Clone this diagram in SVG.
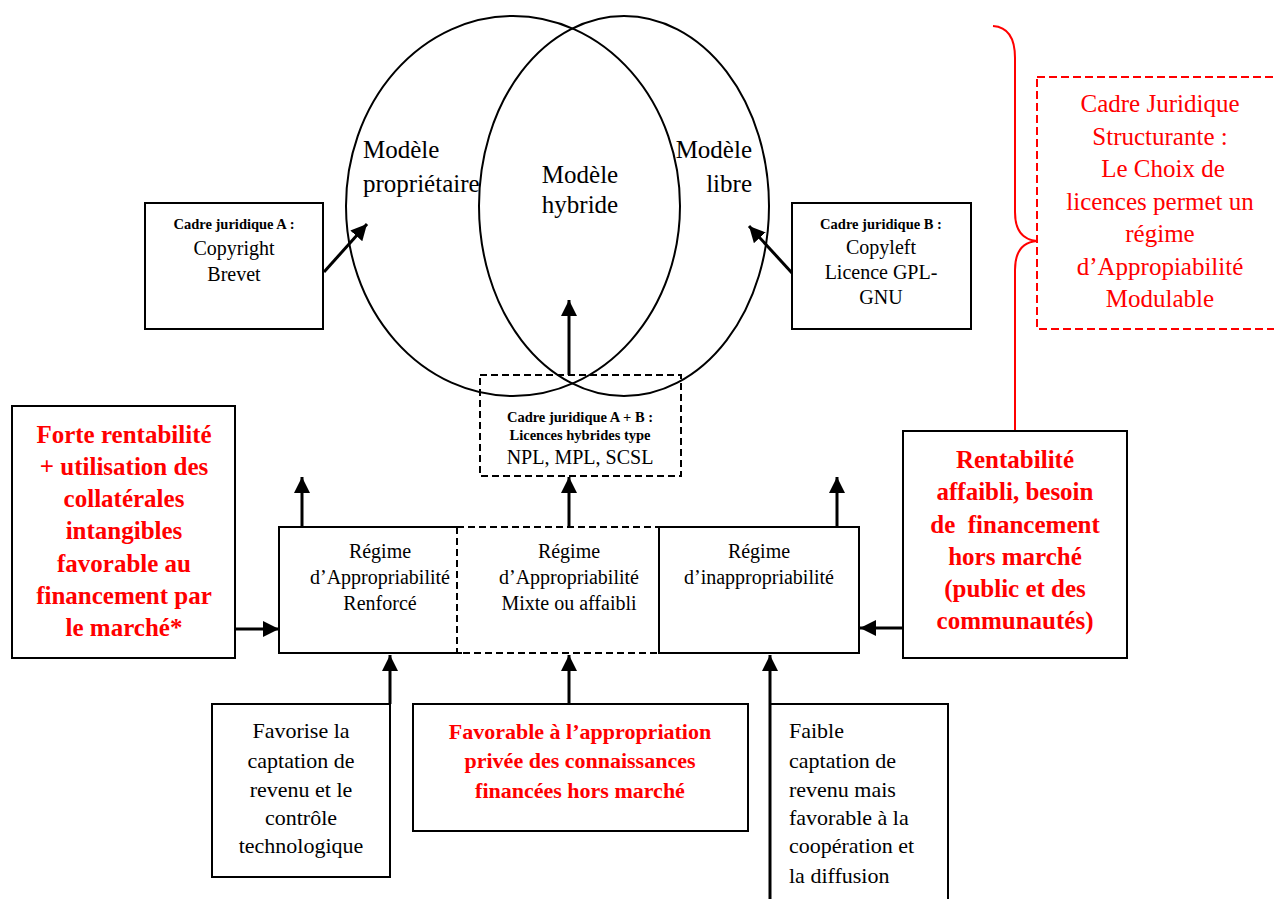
<svg xmlns="http://www.w3.org/2000/svg" width="1274" height="899" viewBox="0 0 1274 899">
<style>
  .bg { fill: #ffffff; }
  .box { fill: none; stroke: #000; stroke-width: 2; }
  .dbox { fill: none; stroke: #000; stroke-width: 2; stroke-dasharray: 7 4; }
  .rdbox { fill: none; stroke: #ff0000; stroke-width: 2; stroke-dasharray: 8 4; }
  .ell { fill: none; stroke: #000; stroke-width: 2; }
  .brace { fill: none; stroke: #ff0000; stroke-width: 2; }
  .conn { fill: none; stroke: #000; stroke-width: 3; marker-end: url(#ah); }
  text { font-family: "Liberation Serif", "Times New Roman", serif; fill: #000; }
  .c { text-anchor: middle; }
  .r { text-anchor: end; }
  .s14b { font-size: 14.5px; font-weight: bold; }
  .s20 { font-size: 20px; }
  .s22 { font-size: 22px; }
  .s25 { font-size: 25px; }
  .red { fill: #ff0000; }
  .b { font-weight: bold; }
</style>
<defs>
  <marker id="ah" markerUnits="userSpaceOnUse" markerWidth="18" markerHeight="16" refX="16" refY="8" orient="auto">
    <path d="M0,0 L16,8 L0,16 Z" fill="#000"/>
  </marker>
</defs>
<rect class="bg" x="0" y="0" width="1274" height="899"/>

<g id="venn">
  <ellipse class="ell" cx="513" cy="206" rx="167" ry="190"/>
  <ellipse class="ell" cx="624" cy="206" rx="145" ry="190"/>
  <text class="s25" x="363" y="158">Modèle</text>
  <text class="s25" x="363" y="192">propriétaire</text>
  <text class="s25 c" x="580" y="183">Modèle</text>
  <text class="s25 c" x="580" y="213">hybride</text>
  <text class="s25 r" x="752" y="158">Modèle</text>
  <text class="s25 r" x="752" y="192">libre</text>
</g>

<g id="cadreA">
  <rect class="box" x="145" y="203" width="178" height="126"/>
  <text class="s14b c" x="234" y="229">Cadre juridique A :</text>
  <text class="s20 c" x="234" y="255">Copyright</text>
  <text class="s20 c" x="234" y="281">Brevet</text>
</g>

<g id="cadreB">
  <rect class="box" x="792" y="203" width="179" height="126"/>
  <text class="s14b c" x="881" y="229">Cadre juridique B :</text>
  <text class="s20 c" x="881" y="254">Copyleft</text>
  <text class="s20 c" x="881" y="279">Licence GPL-</text>
  <text class="s20 c" x="881" y="304">GNU</text>
</g>

<g id="cadreAB">
  <rect class="dbox" x="480" y="375" width="201" height="101"/>
  <text class="s14b c" x="580" y="422">Cadre juridique A + B :</text>
  <text class="s14b c" x="580" y="440">Licences hybrides type</text>
  <text class="s20 c" x="580" y="464">NPL, MPL, SCSL</text>
</g>

<g id="structurante">
  <path class="brace" d="M993,26 C1008,27 1015,38 1015,58 L1015,212 C1015,232 1024,240 1037,241 C1024,242 1015,250 1015,270 L1015,431"/>
  <rect class="rdbox" x="1037" y="77" width="245" height="252"/>
  <text class="s25 c red" x="1160" y="112">Cadre Juridique</text>
  <text class="s25 c red" x="1160" y="145">Structurante :</text>
  <text class="s25 c red" x="1163" y="177">Le Choix de</text>
  <text class="s25 c red" x="1160" y="210">licences permet un</text>
  <text class="s25 c red" x="1160" y="242">régime</text>
  <text class="s25 c red" x="1160" y="275">d’Appropiabilité</text>
  <text class="s25 c red" x="1160" y="307">Modulable</text>
</g>

<g id="forteRentabilite">
  <rect class="box" x="12" y="406" width="223" height="252"/>
  <text class="s25 c b red" x="124" y="443">Forte rentabilité</text>
  <text class="s25 c b red" x="124" y="475">+ utilisation des</text>
  <text class="s25 c b red" x="124" y="507">collatérales</text>
  <text class="s25 c b red" x="124" y="539">intangibles</text>
  <text class="s25 c b red" x="124" y="572">favorable au</text>
  <text class="s25 c b red" x="124" y="604">financement par</text>
  <text class="s25 c b red" x="124" y="636">le marché*</text>
</g>

<g id="rentabiliteAffaibli">
  <rect class="box" x="903" y="431" width="224" height="227"/>
  <text class="s25 c b red" x="1015" y="468">Rentabilité</text>
  <text class="s25 c b red" x="1015" y="500">affaibli, besoin</text>
  <text class="s25 c b red" x="1015" y="533" style="white-space:pre">de  financement</text>
  <text class="s25 c b red" x="1015" y="565">hors marché</text>
  <text class="s25 c b red" x="1015" y="597">(public et des</text>
  <text class="s25 c b red" x="1015" y="629">communautés)</text>
</g>

<g id="regimeRenforce">
  <path class="box" d="M462,527 H279 V653 H462"/>
  <text class="s20 c" x="380" y="558">Régime</text>
  <text class="s20 c" x="380" y="584">d’Appropriabilité</text>
  <text class="s20 c" x="380" y="610">Renforcé</text>
</g>

<g id="regimeMixte">
  <rect class="dbox" x="457" y="527" width="202" height="126"/>
  <text class="s20 c" x="569" y="558">Régime</text>
  <text class="s20 c" x="569" y="584">d’Appropriabilité</text>
  <text class="s20 c" x="569" y="610">Mixte ou affaibli</text>
</g>

<g id="regimeInappropriabilite">
  <rect class="box" x="659" y="527" width="200" height="126"/>
  <text class="s20 c" x="759" y="558">Régime</text>
  <text class="s20 c" x="759" y="584">d’inappropriabilité</text>
</g>

<g id="favorise">
  <rect class="box" x="212" y="704" width="178" height="173"/>
  <text class="s22 c" x="301" y="738">Favorise la</text>
  <text class="s22 c" x="301" y="768">captation de</text>
  <text class="s22 c" x="301" y="797">revenu et le</text>
  <text class="s22 c" x="301" y="825">contrôle</text>
  <text class="s22 c" x="301" y="853">technologique</text>
</g>

<g id="favorable">
  <rect class="box" x="413" y="704" width="335" height="127"/>
  <text class="s22 c b red" x="580" y="739">Favorable à l’appropriation</text>
  <text class="s22 c b red" x="580" y="768">privée des connaissances</text>
  <text class="s22 c b red" x="580" y="798">financées hors marché</text>
</g>

<g id="faible">
  <path class="box" d="M770,910 V704 H948 V910"/>
  <text class="s22" x="789" y="738">Faible</text>
  <text class="s22" x="789" y="768">captation de</text>
  <text class="s22" x="789" y="797">revenu mais</text>
  <text class="s22" x="789" y="825">favorable à la</text>
  <text class="s22" x="789" y="853">coopération et</text>
  <text class="s22" x="789" y="883">la diffusion</text>
</g>

<g id="connectors">
  <path class="conn" d="M324,272 L367,224"/>
  <path class="conn" d="M792,273 L749,226"/>
  <path class="conn" d="M569,375 L569,300"/>
  <path class="conn" d="M569,527 L569,477"/>
  <path class="conn" d="M302,527 L302,477"/>
  <path class="conn" d="M837,527 L837,477"/>
  <path class="conn" d="M235,629 L279,629"/>
  <path class="conn" d="M903,628 L860,628"/>
  <path class="conn" d="M390,704 L390,655"/>
  <path class="conn" d="M569,704 L569,655"/>
  <path class="conn" d="M770,899 L770,655"/>
</g>
</svg>
